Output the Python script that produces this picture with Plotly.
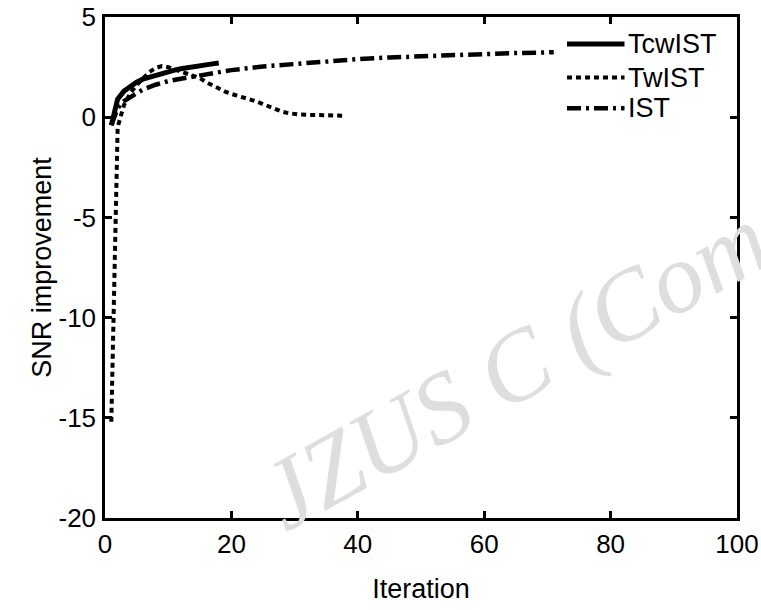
import plotly.graph_objects as go

# ---- data ----
tcw_x = list(range(1, 19))
tcw_y = [-0.4, 0.9, 1.3, 1.55, 1.75, 1.9, 2.0, 2.1, 2.2, 2.28, 2.35, 2.42,
         2.48, 2.53, 2.57, 2.62, 2.66, 2.7]

tw_x = list(range(1, 39))
tw_y = [-15.2, -0.5, 0.6, 1.2, 1.6, 1.95, 2.25, 2.45, 2.55, 2.5, 2.4, 2.3,
        2.2, 2.08, 1.95, 1.75, 1.58, 1.42, 1.28, 1.16, 1.05, 0.96, 0.88, 0.78,
        0.65, 0.5, 0.38, 0.28, 0.2, 0.15, 0.13, 0.12, 0.11, 0.1, 0.1, 0.09,
        0.08, 0.07]

ist_x = [1, 2, 3, 4, 5, 6, 8, 10, 12, 15, 20, 25, 30, 35, 40, 45, 50, 55, 60, 65, 71]
ist_y = [-0.4, 0.45, 0.8, 1.0, 1.2, 1.38, 1.62, 1.8, 1.92, 2.1, 2.35, 2.53,
         2.66, 2.8, 2.9, 2.98, 3.05, 3.1, 3.15, 3.2, 3.24]

series_names = ["TcwIST", "TwIST", "IST"]
x_ticks = [0, 20, 40, 60, 80, 100]
x_tick_labels = ["0", "20", "40", "60", "80", "100"]
y_ticks = [-20, -15, -10, -5, 0, 5]
y_tick_labels = ["-20", "-15", "-10", "-5", "0", "5"]

FONT = "Liberation Sans, Arial, sans-serif"
FS = 27
TFS = 26

styles = {
    "TcwIST": dict(color="black", width=5, dash="solid"),
    "TwIST": dict(color="black", width=4, dash="5px,4px"),
    "IST": dict(color="black", width=4.5, dash="14px,5px,3px,5px"),
}

fig = go.Figure()
for name, xs, ys in zip(series_names, [tcw_x, tw_x, ist_x], [tcw_y, tw_y, ist_y]):
    fig.add_trace(go.Scatter(x=xs, y=ys, mode="lines", name=name,
                             line=styles[name], showlegend=False))

# custom legend (line samples + labels) in the upper right of the plot
leg_y = [0.946, 0.879, 0.818]
for name, ly in zip(series_names, leg_y):
    fig.add_shape(type="line", xref="paper", yref="paper",
                  x0=0.731, x1=0.822, y0=ly, y1=ly,
                  line=styles[name])
    fig.add_annotation(xref="paper", yref="paper", x=0.825, y=ly,
                       text=name, showarrow=False, xanchor="left",
                       yanchor="middle",
                       font=dict(family=FONT, size=FS, color="black"))

# watermark
fig.add_annotation(xref="paper", yref="paper", x=0.648, y=0.30,
                   text="<i>JZUS C (Com</i>", showarrow=False,
                   textangle=-29, xanchor="center", yanchor="middle",
                   font=dict(family="Liberation Serif, Times New Roman, serif",
                             size=100, color="#dedede"))

axis_common = dict(showline=True, linecolor="black", linewidth=2.5,
                   mirror="ticks", ticks="inside", ticklen=7, tickwidth=2.5,
                   tickcolor="black", showgrid=False, zeroline=False,
                   ticklabeloverflow="allow",
                   tickfont=dict(family=FONT, size=TFS, color="black"))

fig.update_xaxes(range=[0, 100], tickvals=x_ticks, ticktext=x_tick_labels,
                 title=dict(text="Iteration", font=dict(family=FONT, size=FS, color="black"),
                            standoff=22),
                 ticklabelstandoff=1, **axis_common)
fig.update_yaxes(range=[-20, 5], tickvals=y_ticks, ticktext=y_tick_labels,
                 title=dict(text="SNR improvement", font=dict(family=FONT, size=FS, color="black"),
                            standoff=0),
                 ticklabelstandoff=1, **axis_common)

fig.update_layout(width=761, height=610,
                  margin=dict(l=105, r=24, t=17, b=92, autoexpand=False),
                  plot_bgcolor="white", paper_bgcolor="white",
                  font=dict(family=FONT, size=FS, color="black"))

# remove the default page margin so the figure fills the window exactly
fig.write_html("out.html",
               config={"displayModeBar": False},
               post_script="document.body.style.margin='0';"
                           "document.body.style.overflow='hidden';")
